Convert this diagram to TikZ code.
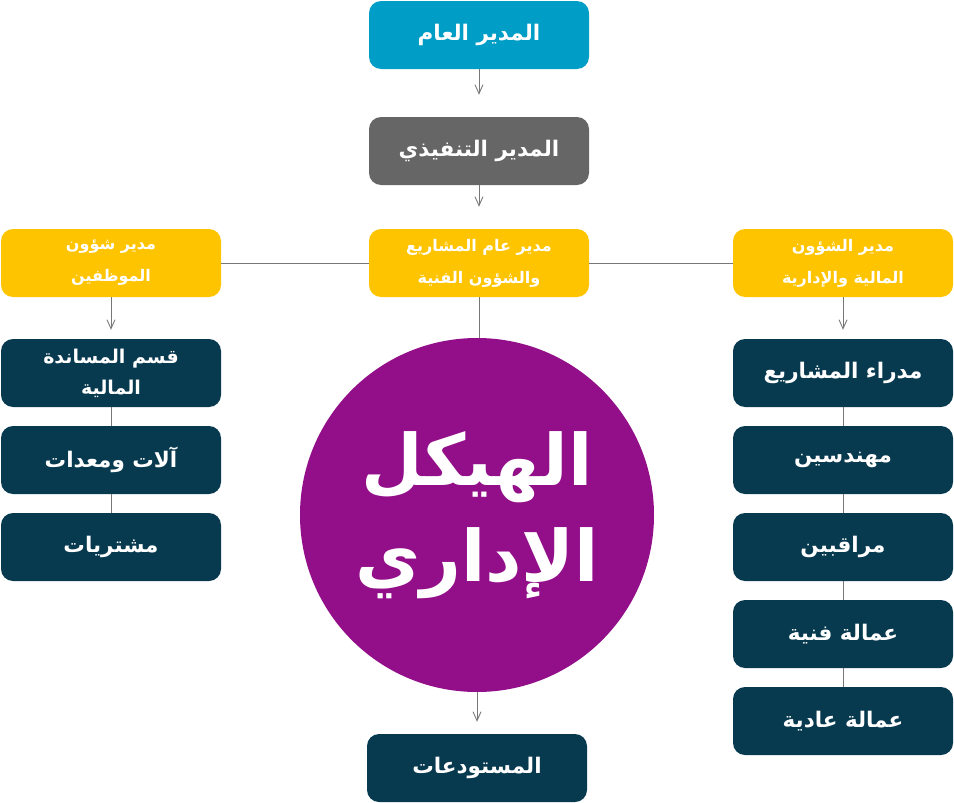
\documentclass[tikz,border=0pt]{standalone}
\usepackage{fontspec}
\TeXXeTstate=1
\newfontfamily\arabicfont[Script=Arabic]{DejaVu Sans}
\usetikzlibrary{arrows.meta}
\definecolor{cblue}{HTML}{009EC6}
\definecolor{cgray}{HTML}{666666}
\definecolor{cyellow}{HTML}{FFC400}
\definecolor{cnavy}{HTML}{07394F}
\definecolor{cpurple}{HTML}{930F8A}
\definecolor{cline}{HTML}{777777}
\tikzset{
  box/.style={rounded corners=12pt, minimum width=220pt, minimum height=68pt, inner sep=0pt, text=white, align=center},
  bigtxt/.style={font=\arabicfont\bfseries\fontsize{21.5}{26}\selectfont},
  smalltxt/.style={font=\arabicfont\bfseries\fontsize{16}{32}\selectfont},
  midtxt/.style={font=\arabicfont\bfseries\fontsize{19}{31}\selectfont},
  conn/.style={draw=cline, line width=0.9pt},
  arr/.style={conn, -{Straight Barb[length=9pt,width=8pt,line width=0.9pt]}},
}
\begin{document}
\begin{tikzpicture}[x=1pt,y=-1pt]
\useasboundingbox (0,0) rectangle (954,803);
% top
\node[box, fill=cblue, bigtxt] (gm) at (479,35) {\beginR المدير العام\endR};
\node[box, fill=cgray, bigtxt] (ex) at (479,151) {\beginR المدير التنفيذي\endR};
% yellow row
\node[box, fill=cyellow, smalltxt] (hr) at (111,263) {\beginR مدير شؤون\endR\\\beginR الموظفين\endR};
\node[box, fill=cyellow, smalltxt] (pm) at (479,263) {\beginR مدير عام المشاريع\endR\\\beginR والشؤون الفنية\endR};
\node[box, fill=cyellow, smalltxt] (fa) at (843,263) {\beginR مدير الشؤون\endR\\\beginR المالية والإدارية\endR};
% left column
\node[box, fill=cnavy, midtxt] (l1) at (111,373) {\beginR قسم المساندة\endR\\\beginR المالية\endR};
\node[box, fill=cnavy, bigtxt] (l2) at (111,460) {\beginR آلات ومعدات\endR};
\node[box, fill=cnavy, bigtxt] (l3) at (111,547) {\beginR مشتريات\endR};
% right column
\node[box, fill=cnavy, bigtxt] (r1) at (843,373) {\beginR مدراء المشاريع\endR};
\node[box, fill=cnavy, bigtxt] (r2) at (843,460) {\beginR مهندسين\endR};
\node[box, fill=cnavy, bigtxt] (r3) at (843,547) {\beginR مراقبين\endR};
\node[box, fill=cnavy, bigtxt] (r4) at (843,634) {\beginR عمالة فنية\endR};
\node[box, fill=cnavy, bigtxt] (r5) at (843,721) {\beginR عمالة عادية\endR};
% circle
\node[circle, fill=cpurple, minimum size=354pt, inner sep=0pt, text=white, align=center,
  font=\arabicfont\bfseries\fontsize{71}{96}\selectfont] (c) at (477,515) {\beginR الهيكل\endR\\\beginR الإداري\endR};
% bottom
\node[box, fill=cnavy, bigtxt] (st) at (477,768) {\beginR المستودعات\endR};
% connectors
\draw[arr, shorten >=22pt] (gm.south) -- (ex.north);
\draw[arr, shorten >=22pt] (ex.south) -- (pm.north);
\draw[conn] (pm.west) -- (hr.east);
\draw[conn] (pm.east) -- (fa.west);
\draw[conn] (pm.south) -- (pm.south |- c.north);
\draw[arr, shorten >=9pt] (hr.south) -- (l1.north);
\draw[arr, shorten >=9pt] (fa.south) -- (r1.north);
\draw[conn] (l1.south) -- (l2.north);
\draw[conn] (l2.south) -- (l3.north);
\draw[conn] (r1.south) -- (r2.north);
\draw[conn] (r2.south) -- (r3.north);
\draw[conn] (r3.south) -- (r4.north);
\draw[conn] (r4.south) -- (r5.north);
\draw[arr, shorten >=12pt] (c.south -| st.north) -- (st.north);
\end{tikzpicture}
\end{document}
